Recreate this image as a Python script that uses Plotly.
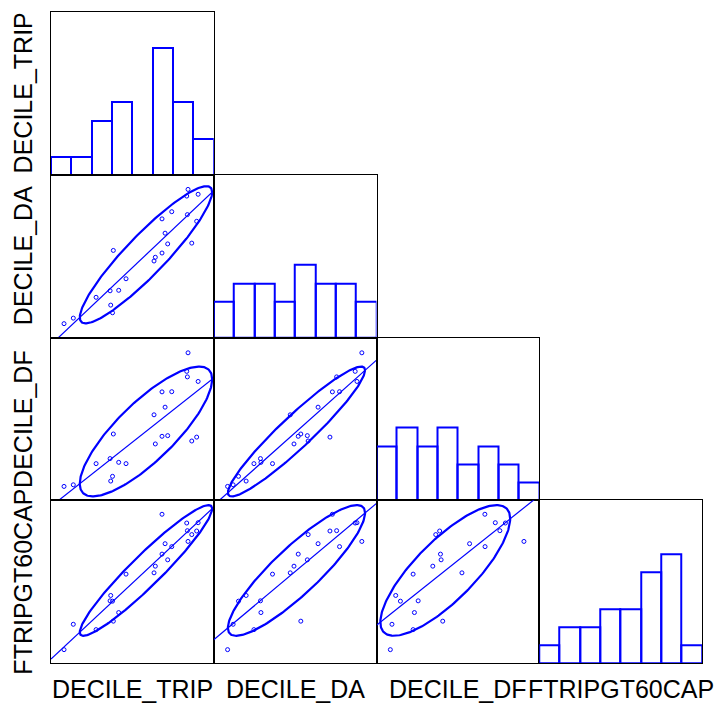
import numpy as np
import plotly.graph_objects as go
from plotly.subplots import make_subplots

# Variables in the matrix (rows top->bottom, columns left->right)
VAR_NAMES = ["DECILE_TRIP", "DECILE_DA", "DECILE_DF", "FTRIPGT60CAP"]

# Observations (percent-of-range units); last record only has FTRIPGT60CAP
nan = float("nan")
decile_trip = [8.0, 13.7, 27.7, 36.3, 36.7, 37.8, 38.3, 41.6, 46.1, 63.3, 64.1,
               68.2, 68.2, 70.1, 71.7, 74.2, 83.8, 83.4, 84.2, 86.5, 89.5, 90.4, nan]
decile_da = [8.5, 11.9, 24.7, 28.7, 19.9, 15.2, 53.5, 29.0, 36.1, 47.0, 49.3,
             51.9, 72.9, 64.1, 57.5, 77.3, 75.5, 86.9, 91.0, 58.0, 71.4, 88.0, nan]
decile_df = [8.5, 9.5, 22.5, 25.6, 11.8, 14.7, 40.7, 23.3, 22.5, 52.5, 34.6,
             39.3, 66.6, 57.2, 39.7, 66.7, 75.8, 79.2, 90.6, 36.4, 38.8, 73.0, nan]
ftripgt60cap = [8.2, 23.8, 20.5, 38.2, 41.5, 38.0, 25.7, 31.0, 54.6, 55.4, 59.5,
                66.9, 91.4, 73.3, 63.4, 71.5, 81.3, 86.0, 74.7, 78.9, 81.1, 86.2, 79.5]

AXIS_LO, AXIS_HI = 0.0, 100.0
N_BINS = 8
HIST_TOP = 9          # count shown at the top of each histogram panel
ELLIPSE_C = 1.62      # ellipse radius in standard-deviation units

BLUE = "#0000FF"
FONT = "Liberation Sans, Arial, sans-serif"

columns = [np.array(v, dtype=float) for v in (decile_trip, decile_da, decile_df, ftripgt60cap)]
n = len(VAR_NAMES)

specs = [[{} if c <= r else None for c in range(n)] for r in range(n)]
fig = make_subplots(rows=n, cols=n, specs=specs,
                    horizontal_spacing=0, vertical_spacing=0)

edges = np.linspace(AXIS_LO, AXIS_HI, N_BINS + 1)
centers = 0.5 * (edges[:-1] + edges[1:])
bin_w = edges[1] - edges[0]

for r in range(n):
    for c in range(r + 1):
        row, col = r + 1, c + 1
        if r == c:
            v = columns[r]
            v = v[~np.isnan(v)]
            counts, _ = np.histogram(v, bins=edges)
            heights = [int(k) if k > 0 else None for k in counts]
            fig.add_trace(go.Bar(
                x=centers, y=heights, width=bin_w,
                marker=dict(color="rgba(0,0,0,0)", line=dict(color=BLUE, width=2)),
                showlegend=False, hoverinfo="skip"), row=row, col=col)
            fig.update_yaxes(range=[0, HIST_TOP], row=row, col=col)
        else:
            x = columns[c]
            y = columns[r]
            ok = ~(np.isnan(x) | np.isnan(y))
            x, y = x[ok], y[ok]
            # points
            fig.add_trace(go.Scatter(
                x=x, y=y, mode="markers",
                marker=dict(symbol="circle-open", size=4, color=BLUE,
                            line=dict(width=1, color=BLUE)),
                showlegend=False, hoverinfo="skip"), row=row, col=col)
            # least-squares line across the panel
            slope, intercept = np.polyfit(x, y, 1)
            lx = np.array([AXIS_LO, AXIS_HI])
            fig.add_trace(go.Scatter(
                x=lx, y=intercept + slope * lx, mode="lines",
                line=dict(color=BLUE, width=1.2),
                showlegend=False, hoverinfo="skip"), row=row, col=col)
            # covariance ellipse
            cov = np.cov(np.vstack([x, y]))
            L = np.linalg.cholesky(cov)
            t = np.linspace(0, 2 * np.pi, 241)
            circ = np.vstack([np.cos(t), np.sin(t)])
            ell = np.array([[x.mean()], [y.mean()]]) + ELLIPSE_C * (L @ circ)
            fig.add_trace(go.Scatter(
                x=ell[0], y=ell[1], mode="lines",
                line=dict(color=BLUE, width=2.2),
                showlegend=False, hoverinfo="skip"), row=row, col=col)
            fig.update_yaxes(range=[AXIS_LO, AXIS_HI], row=row, col=col)
        fig.update_xaxes(range=[AXIS_LO, AXIS_HI], row=row, col=col)

axis_style = dict(showline=True, linecolor="black", linewidth=1.3, mirror=True,
                  showticklabels=False, ticks="", showgrid=False, zeroline=False,
                  fixedrange=True)
fig.update_xaxes(**axis_style)
fig.update_yaxes(**axis_style)

# Variable names along the bottom and the left side
annotations = []
for i, name in enumerate(VAR_NAMES):
    mid = (i + 0.5) / n
    annotations.append(dict(text=name, x=mid, y=-0.040, xref="paper", yref="paper",
                            xanchor="center", yanchor="middle", showarrow=False,
                            borderpad=0,
                            font=dict(family=FONT, size=25, color="black")))
    annotations.append(dict(text=name, x=-0.043, y=1 - mid, xref="paper", yref="paper",
                            xanchor="center", yanchor="middle", textangle=-90,
                            showarrow=False, borderpad=0,
                            font=dict(family=FONT, size=25, color="black")))

fig.update_layout(
    width=718, height=704,
    margin=dict(l=51, r=16, t=12, b=41),
    paper_bgcolor="white", plot_bgcolor="white",
    bargap=0, showlegend=False,
    annotations=annotations,
)

fig.write_html("out.html")
